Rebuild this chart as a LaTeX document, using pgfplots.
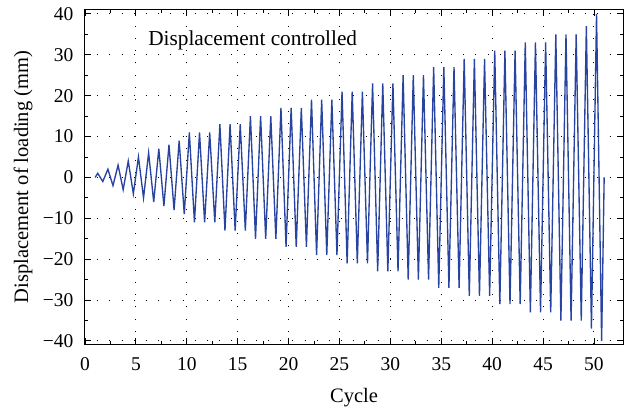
\documentclass[border=0pt]{standalone}
\usepackage{fontspec}
\setmainfont{Liberation Serif}
\usepackage{pgfplots}
\pgfplotsset{compat=1.18}
\definecolor{lineblue}{RGB}{40,68,160}
\begin{document}
\begin{tikzpicture}
\useasboundingbox (-85bp,-67bp) rectangle (541bp,344bp);
\begin{axis}[
  scale only axis,
  width=538bp, height=334bp,
  xmin=0, xmax=52.85,
  ymin=-40.75, ymax=40.95,
  xtick={0,5,...,50},
  ytick={-40,-30,...,40},
  yticklabels={−40,−30,−20,−10,0,10,20,30,40},
  minor x tick num=1,
  minor y tick num=1,
  major tick length=6bp,
  minor tick length=3.5bp,
  tick style={black, line width=0.9bp},
  axis line style={black, line width=1bp},
  grid=major,
  major grid style={black, line width=1bp, dash pattern=on 1bp off 11.2bp},
  /pgf/number format/assume math mode=true,
  tick label style={font=\fontsize{19.5bp}{22bp}\selectfont},
  xticklabel style={yshift=-10bp},
  yticklabel style={xshift=-8bp},
  label style={font=\fontsize{20.5bp}{24bp}\selectfont},
  xlabel={Cycle},
  ylabel={Displacement of loading (mm)},
  xlabel style={at={(axis description cs:0.5,-0.175)}, anchor=base},
  ylabel style={at={(axis description cs:-0.115,0.5)}, anchor=center},
  clip=false,
]
\addplot[lineblue, line width=1.35bp, no marks] coordinates {
(1,0)
(1.25,1)(1.75,-1)
(2.25,2)(2.75,-2)
(3.25,3)(3.75,-3)
(4.25,4)(4.75,-4)
(5.25,5)(5.75,-5)
(6.25,6)(6.75,-6)
(7.25,7)(7.75,-7)
(8.25,8)(8.75,-8)
(9.25,9)(9.75,-9)
(10.25,11)(10.75,-11)
(11.25,11)(11.75,-11)
(12.25,11)(12.75,-11)
(13.25,13)(13.75,-13)
(14.25,13)(14.75,-13)
(15.25,13)(15.75,-13)
(16.25,15)(16.75,-15)
(17.25,15)(17.75,-15)
(18.25,15)(18.75,-15)
(19.25,17)(19.75,-17)
(20.25,17)(20.75,-17)
(21.25,17)(21.75,-17)
(22.25,19)(22.75,-19)
(23.25,19)(23.75,-19)
(24.25,19)(24.75,-19)
(25.25,21)(25.75,-21)
(26.25,21)(26.75,-21)
(27.25,21)(27.75,-21)
(28.25,23)(28.75,-23)
(29.25,23)(29.75,-23)
(30.25,23)(30.75,-23)
(31.25,25)(31.75,-25)
(32.25,25)(32.75,-25)
(33.25,25)(33.75,-25)
(34.25,27)(34.75,-27)
(35.25,27)(35.75,-27)
(36.25,27)(36.75,-27)
(37.25,29)(37.75,-29)
(38.25,29)(38.75,-29)
(39.25,29)(39.75,-29)
(40.25,31)(40.75,-31)
(41.25,31)(41.75,-31)
(42.25,31)(42.75,-31)
(43.25,33)(43.75,-33)
(44.25,33)(44.75,-33)
(45.25,33)(45.75,-33)
(46.25,35)(46.75,-35)
(47.25,35)(47.75,-35)
(48.25,35)(48.75,-35)
(49.25,37)(49.75,-37)
(50.25,40)(50.75,-40)
(51,0)
};
\node[anchor=base west, inner sep=0pt, font=\fontsize{21.3bp}{25bp}\selectfont] at (axis cs:6.2,32.3) {Displacement controlled};
\end{axis}
\end{tikzpicture}
\end{document}
